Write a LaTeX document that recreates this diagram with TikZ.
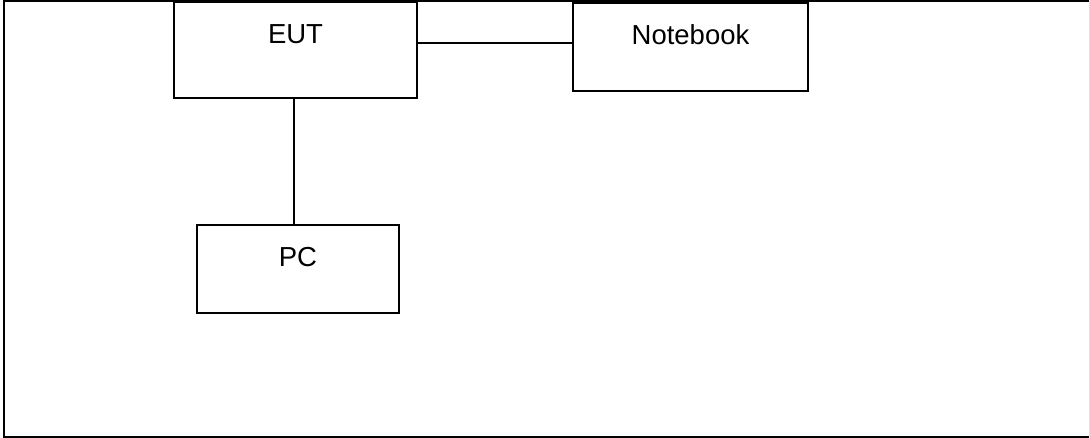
\documentclass[tikz,border=0pt]{standalone}
\usepackage{fontspec}
\setmainfont{Liberation Sans}
\begin{document}
\begin{tikzpicture}[x=1pt,y=-1pt,
  box/.style={draw=black,line width=1.6pt,minimum width=#1,inner sep=0pt,outer sep=0pt},
  boxlabel/.style={font=\fontsize{27.5}{32}\selectfont,inner sep=0pt,anchor=center},
  link/.style={draw=black,line width=1.6pt}]
  \useasboundingbox (0,0) rectangle (1090,438);
  % outer frame
  \draw[line width=2pt] (1089,1.5) -- (3.5,1.5) -- (3.5,436.5) -- (1089,436.5);
  \draw[line width=1pt,black!12] (1089,1.5) -- (1089,436.5);
  % equipment boxes
  \node[box=243pt,minimum height=96pt] (eut) at (295.5,50) {};
  \node[box=235pt,minimum height=88pt] (nb) at (690.5,47) {};
  \node[box=202pt,minimum height=88pt] (pc) at (298,269) {};
  % labels
  \node[boxlabel] (eutlabel) at (295.5,34) {EUT};
  \node[boxlabel] (nblabel) at (690.5,35) {Notebook};
  \node[boxlabel] (pclabel) at (298,257) {PC};
  % cables
  \draw[link] ([yshift=4pt]nb.west) -- ([yshift=4pt]nb.west -| eut.east);
  \draw[link] ([xshift=-1.5pt]eut.south) -- ([xshift=-1.5pt]eut.south |- pc.north);
\end{tikzpicture}
\end{document}
